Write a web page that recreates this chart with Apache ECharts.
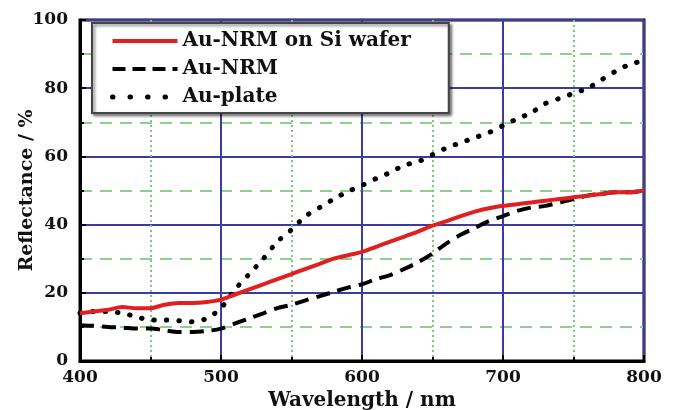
<!DOCTYPE html>
<html><head><meta charset="utf-8">
<script src="https://cdn.jsdelivr.net/npm/echarts@6/dist/echarts.min.js"></script>
<style>html,body{margin:0;padding:0;background:#fff}#c{width:676px;height:410px}</style>
</head><body><div id="c"></div>
<script>
const wavelengths = [400,410,420,430,440,450,460,470,480,490,500,510,520,530,540,550,560,570,580,590,600,610,620,630,640,650,660,670,680,690,700,710,720,730,740,750,760,770,780,790,800];
const auNrmSi = [14,14.5,15,15.8,15.5,15.5,16.5,17,17,17.3,18,19.5,21,22.5,24,25.5,27,28.5,30,31,32,33.5,35,36.5,38,39.7,41,42.5,43.8,44.8,45.5,46,46.5,47,47.5,48,48.5,49,49.5,49.5,50];
const auNrm = [10.5,10.3,10,9.8,9.5,9.5,9,8.5,8.5,8.8,9.5,11,12.5,14,15.5,16.5,17.8,19,20.3,21.5,22.5,24,25.2,27,29,31.5,34.5,37,39,41,42.5,44,45,45.5,46.5,47.5,48.5,49,49.5,49.5,50];
const auPlate = [14,14.5,14.5,14,13,12,12,11.8,11.5,12.5,15.5,21,25.5,30,35,38.5,42.5,45,47.5,49.7,51.5,53.5,55.3,57.4,58.5,60.5,62.5,64,65.5,67,69,71,72.8,75.5,77,78.5,80,82.5,85,87,88];
const seriesNames = ['Au-NRM on Si wafer','Au-NRM','Au-plate'];
const xTicks = [400,500,600,700,800];
const yTicks = [0,20,40,60,80,100];

const font = '"DejaVu Serif", "Liberation Serif", serif';
const pairs = arr => wavelengths.map((w,i)=>[w,arr[i]]);
const chart = echarts.init(document.getElementById('c'));
chart.setOption({
  animation:false,
  backgroundColor:'#fff',
  grid:{left:80,right:32,top:20,bottom:49,outerBoundsMode:'none',containLabel:false,show:true,borderColor:'#000',borderWidth:3,backgroundColor:'transparent'},
  legend:{
    orient:'vertical',left:92,top:23,
    padding:[8,38,6,18],itemGap:8,itemWidth:65,itemHeight:16,
    backgroundColor:'#fff',borderColor:'#444',borderWidth:2,
    shadowColor:'rgba(0,0,0,0.5)',shadowBlur:3,shadowOffsetX:2,shadowOffsetY:2,
    itemStyle:{color:'transparent',borderColor:'transparent',borderWidth:0},
    textStyle:{fontFamily:font,fontWeight:'bold',fontSize:20,color:'#111'},
    data:[
      {name:seriesNames[0],lineStyle:{width:4}},
      {name:seriesNames[1],lineStyle:{width:4,type:[13,7]}},
      {name:seriesNames[2],lineStyle:{width:5,type:[0.5,17],cap:'round'}}
    ]
  },
  xAxis:{type:'value',min:400,max:800,interval:100,
    axisLine:{show:true,lineStyle:{color:'#000',width:3}},
    axisTick:{show:true,inside:true,length:6,lineStyle:{color:'#000',width:2}},
    minorTick:{show:true,splitNumber:2,length:4,lineStyle:{color:'#000',width:2}},
    axisLabel:{fontFamily:font,fontWeight:'bold',fontSize:17,color:'#111',margin:8,customValues:xTicks},
    splitLine:{show:true,lineStyle:{color:'#3a3aa8',width:2}},
    minorSplitLine:{show:true,lineStyle:{color:'#7cc87c',width:2,type:[2,3]}},
    name:'Wavelength / nm',nameLocation:'middle',nameGap:30,nameMoveOverlap:false,
    nameTextStyle:{fontFamily:font,fontWeight:'bold',fontSize:20,color:'#111'}
  },
  yAxis:{type:'value',min:0,max:100,interval:20,
    axisLine:{show:true,lineStyle:{color:'#000',width:3}},
    axisTick:{show:true,inside:true,length:6,lineStyle:{color:'#000',width:2}},
    minorTick:{show:true,splitNumber:2,length:4,lineStyle:{color:'#000',width:2}},
    axisLabel:{fontFamily:font,fontWeight:'bold',fontSize:17,color:'#111',margin:12,customValues:yTicks},
    splitLine:{show:true,lineStyle:{color:'#3a3aa8',width:2}},
    minorSplitLine:{show:true,lineStyle:{color:'#8fd08f',width:2,type:[12,8]}},
    name:'Reflectance / %',nameLocation:'middle',nameGap:43,nameMoveOverlap:false,
    nameTextStyle:{fontFamily:font,fontWeight:'bold',fontSize:19,color:'#111'}
  },
  series:[
    {name:seriesNames[0],type:'line',data:pairs(auNrmSi),symbol:'none',smooth:0.3,z:5,
     lineStyle:{color:'#e02020',width:4},itemStyle:{color:'#e02020'}},
    {name:seriesNames[1],type:'line',data:pairs(auNrm),symbol:'none',smooth:0.3,z:4,
     lineStyle:{color:'#000',width:4,type:[14,8]},itemStyle:{color:'#000'}},
    {name:seriesNames[2],type:'line',data:pairs(auPlate),symbol:'none',smooth:0.3,z:3,
     lineStyle:{color:'#000',width:5,type:[0.5,12],cap:'round'},itemStyle:{color:'#000'}}
  ]
});
</script></body></html>
